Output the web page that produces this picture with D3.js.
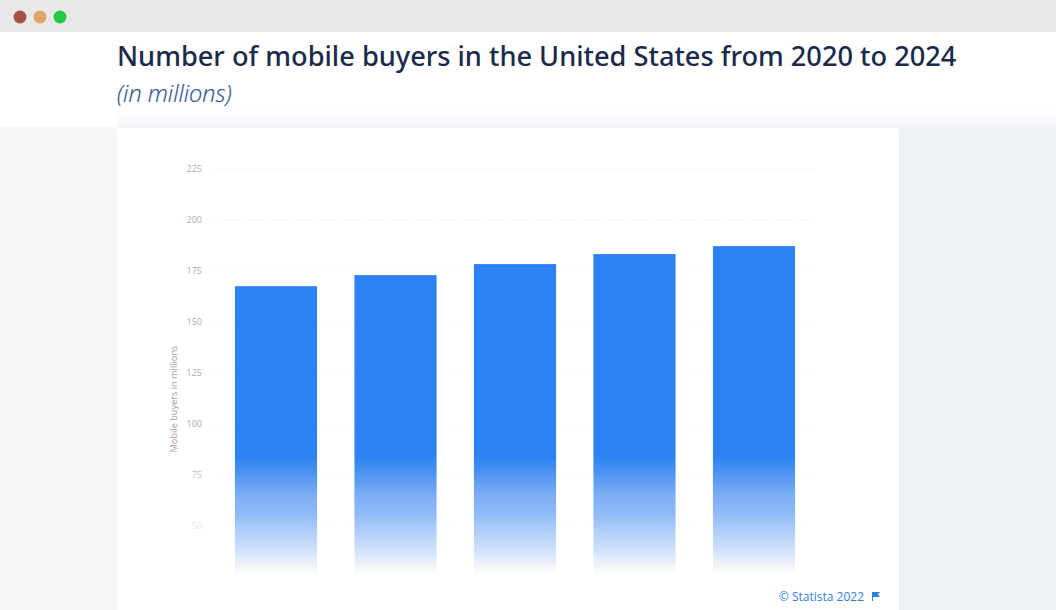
<!DOCTYPE html>
<html>
<head>
<meta charset="utf-8">
<script src="https://cdn.jsdelivr.net/npm/d3@7"></script>
<style>
html,body{margin:0;padding:0;background:#fff;overflow:hidden}
svg{display:block}
text{font-family:"Open Sans",sans-serif}
</style>
</head>
<body>
<svg id="c" width="1056" height="610"></svg>
<script>
const years = ["2020","2021","2022","2023","2024"];
const buyers = [167.4,172.8,178.2,183.1,187.0];
const yTicks = [50,75,100,125,150,175,200,225];
const titleText = "Number of mobile buyers in the United States from 2020 to 2024";
const subtitleText = "(in millions)";
const yAxisTitle = "Mobile buyers in millions";
const creditText = "© Statista 2022";
const dotColors = ["#a94f47","#dfa564","#22c943"];

const svg = d3.select("#c");
const defs = svg.append("defs");

const y = d3.scaleLinear().domain([25,225]).range([577,168.5]);
const x = d3.scaleBand().domain(years).range([215,815]).paddingInner(0.3125).paddingOuter(0.1667);

// page
svg.append("rect").attr("width",1056).attr("height",610).attr("fill","#eef1f4");
svg.append("rect").attr("y",127).attr("width",117).attr("height",483).attr("fill","#f4f6f8");
svg.append("rect").attr("y",32).attr("width",1056).attr("height",95).attr("fill","#fff");
svg.append("rect").attr("width",1056).attr("height",32).attr("fill","#e8e8e8");
svg.selectAll("circle.dot").data(dotColors).join("circle").attr("class","dot")
  .attr("cx",(d,i)=>[20,40,60][i]).attr("cy",17).attr("r",6.5).attr("fill",d=>d);

// soft fade above the card
const sh = defs.append("linearGradient").attr("id","sh").attr("x1",0).attr("x2",0).attr("y1",0).attr("y2",1);
sh.append("stop").attr("offset",0).attr("stop-color","#f5f6f9").attr("stop-opacity",0);
sh.append("stop").attr("offset",1).attr("stop-color","#f5f6f9").attr("stop-opacity",1);
svg.append("rect").attr("x",117).attr("y",108).attr("width",939).attr("height",20).attr("fill","url(#sh)");

// card
svg.append("rect").attr("x",117).attr("y",128).attr("width",782).attr("height",490).attr("rx",3).attr("fill","#fff");

svg.append("text").attr("x",117).attr("y",66).attr("font-size",27.2).attr("font-weight",500)
  .style("font-family",'"Noto Sans",sans-serif').attr("fill","#1a2a4a").text(titleText);
svg.append("text").attr("x",117).attr("y",102).attr("font-size",23.5).attr("font-style","italic").attr("font-weight",300)
  .attr("fill","#2f5490").attr("stroke","#2f5490").attr("stroke-width",0.2).text(subtitleText);

// grid and axis
svg.append("g").selectAll("line").data(yTicks).join("line")
  .attr("x1",215).attr("x2",815).attr("y1",d=>Math.round(y(d))+0.5).attr("y2",d=>Math.round(y(d))+0.5)
  .attr("stroke","#e8e8e8").attr("stroke-dasharray","1 2")
  .attr("stroke-opacity",d=>d>=200?1:0.45);

const axis = d3.axisLeft(y).tickValues(yTicks).tickSize(0).tickPadding(0);
const ag = svg.append("g").attr("transform","translate(202,0)").call(axis);
ag.select(".domain").remove();
ag.selectAll("text").attr("font-size",9).attr("fill","#a9adb3").style("font-family",'"Open Sans",sans-serif');

svg.append("text").attr("transform","translate(177,399) rotate(-90)").attr("text-anchor","middle")
  .attr("font-size",9.2).attr("fill","#a5a1a0").text(yAxisTitle);

// fade over the lower axis region
const fade = defs.append("linearGradient").attr("id","fade").attr("gradientUnits","userSpaceOnUse")
  .attr("x1",0).attr("x2",0).attr("y1",440).attr("y2",575);
fade.append("stop").attr("offset",0).attr("stop-color","#fff").attr("stop-opacity",0);
fade.append("stop").attr("offset",0.75).attr("stop-color","#fff").attr("stop-opacity",0.8);
fade.append("stop").attr("offset",1).attr("stop-color","#fff").attr("stop-opacity",1);
svg.append("rect").attr("x",160).attr("y",440).attr("width",670).attr("height",140).attr("fill","url(#fade)");

// bar colour: solid, then dissolving to white near the foot
const barStops = [[456,"#2c82f2"],[470,"#4690f1"],[480,"#5c9bf2"],[497,"#7fb0f5"],[512,"#8db9f7"],[530,"#aecdfb"],[550,"#cfe1fc"],[560,"#e4edf9"],[566,"#f0f3f6"],[575,"#ffffff"]];
const bg = defs.append("linearGradient").attr("id","bar").attr("gradientUnits","userSpaceOnUse")
  .attr("x1",0).attr("x2",0).attr("y1",456).attr("y2",575);
barStops.forEach(s=>bg.append("stop").attr("offset",(s[0]-456)/119).attr("stop-color",s[1]));

svg.append("g").selectAll("rect").data(years).join("rect")
  .attr("x",d=>x(d)).attr("width",x.bandwidth())
  .attr("y",(d,i)=>y(buyers[i])).attr("height",(d,i)=>y(25)-y(buyers[i]))
  .attr("fill","url(#bar)");

// credit
svg.append("text").attr("x",864).attr("y",601).attr("text-anchor","end").attr("font-size",12)
  .attr("fill","#2f7fe6").text(creditText);
svg.append("path").attr("d",d3.line()([[872,601],[872,592],[880,592],[878,594.5],[880,597],[873,597],[873,601]])+"Z")
  .attr("fill","#2f7fe6");
</script>
</body>
</html>
